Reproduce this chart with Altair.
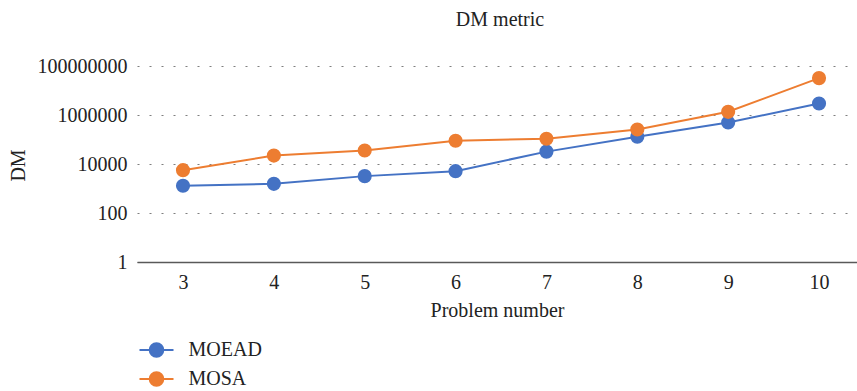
import altair as alt
import pandas as pd

problems = [3, 4, 5, 6, 7, 8, 9, 10]
moead = [1290, 1550, 3200, 5100, 32000, 129000, 494000, 2950000]
mosa = [5600, 22000, 35600, 89000, 107000, 256000, 1350000, 32000000]
series_names = ["MOEAD", "MOSA"]
series_colors = ["#4472C4", "#ED7D31"]
y_ticks = [1, 100, 10000, 1000000, 100000000]

rows = []
for name, vals in zip(series_names, [moead, mosa]):
    for p, v in zip(problems, vals):
        rows.append({"Problem": p, "DM": v, "Series": name})
df = pd.DataFrame(rows)

FONT = "Liberation Serif"
TXT = "#222222"
legend_path = "M-2,0L2,0M0.8,0A0.8,0.8,0,1,1,-0.8,0A0.8,0.8,0,1,1,0.8,0Z"

color = alt.Color(
    "Series:N",
    scale=alt.Scale(domain=series_names, range=series_colors),
    legend=alt.Legend(
        title=None, orient="none", legendX=9.5, legendY=274,
        direction="vertical",
        symbolType=legend_path, symbolSize=289, symbolStrokeWidth=2,
        labelFont=FONT, labelFontSize=20, labelColor=TXT,
        labelOffset=22, rowPadding=7, padding=0,
    ),
)

x = alt.X(
    "Problem:Q",
    scale=alt.Scale(domain=[2.4937, 10.418], nice=False, zero=False),
    axis=alt.Axis(
        title="Problem number", values=problems, format="d", grid=False,
        ticks=False, domainColor="#595959", domainWidth=1.5,
        labelPadding=10, labelFont=FONT, labelFontSize=20, labelColor=TXT,
        titleFont=FONT, titleFontSize=20, titleFontWeight="normal",
        titleColor=TXT, titlePadding=8, labelFlush=False,
    ),
)

y = alt.Y(
    "DM:Q",
    scale=alt.Scale(type="log", domain=[1, 100000000], nice=False),
    axis=alt.Axis(
        title="DM", values=y_ticks, format="d", grid=True,
        gridDash=[2, 10], gridColor="#7f7f7f", gridWidth=1.2,
        domain=False, ticks=False, labelPadding=10,
        labelFont=FONT, labelFontSize=20, labelColor=TXT,
        titleFont=FONT, titleFontSize=20, titleFontWeight="normal",
        titleColor=TXT, titleX=-119, titleY=99, titleBaseline="middle",
        titleAngle=-90,
    ),
)

chart = (
    alt.Chart(df)
    .mark_line(
        strokeWidth=2,
        point=alt.OverlayMarkDef(filled=True, size=200, opacity=1),
    )
    .encode(x=x, y=y, color=color, order="Problem:Q")
    .properties(
        width=720, height=196,
        title=alt.TitleParams(
            "DM metric", font=FONT, fontSize=20, fontWeight="normal",
            color=TXT, anchor="middle", frame="group", offset=26, dx=3,
        ),
        padding={"left": 137, "top": 66, "right": 0, "bottom": 129},
        autosize="none",
    )
    .configure_view(stroke=None)
)

chart.save("out.html", embed_options={"renderer": "svg", "actions": False})
